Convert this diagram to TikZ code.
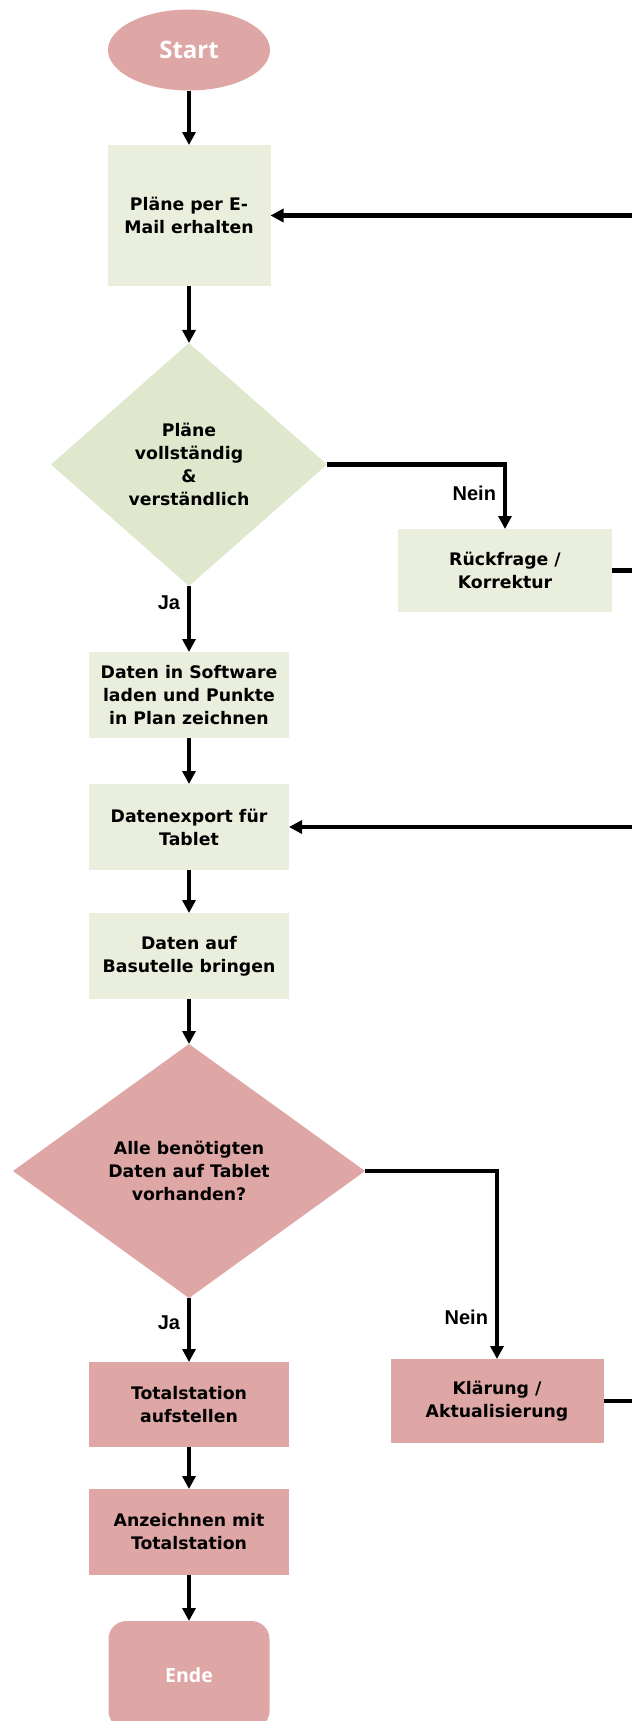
\documentclass[tikz,border=0pt]{standalone}
\usepackage{fontspec}
\setmainfont{DejaVu Sans}
\newfontfamily\answerfont{Liberation Sans}
\newfontfamily\termfont{Open Sans}
\usepackage{xcolor}
\usepackage{tikz}
\usetikzlibrary{arrows.meta}
\usetikzlibrary{shapes.geometric}
\usetikzlibrary{calc}
\usetikzlibrary{positioning}

\definecolor{flowpink}{RGB}{223,166,166}
\definecolor{flowgreen}{RGB}{233,239,220}
\definecolor{askgreen}{RGB}{223,232,204}

\begin{document}
\begin{tikzpicture}[x=1pt, y=1pt, node distance=130pt, line width=4.2pt, >={Triangle[length=13pt,width=13pt]}]
	\tikzstyle{every node}=[font=\fontsize{17.3}{23}\selectfont\bfseries, align=center, inner sep=2pt, line width=0pt]
	\tikzstyle{terminal}=[ellipse, fill=flowpink, text=white, minimum width=162pt, minimum height=81pt, font=\termfont\fontsize{24}{28}\selectfont\bfseries]
	\tikzstyle{endbox}=[rectangle, rounded corners=18pt, fill=flowpink, text=white, minimum width=161pt, minimum height=108pt, font=\termfont\fontsize{19.5}{24}\selectfont\bfseries]
	\tikzstyle{greenstep}=[rectangle, fill=flowgreen, minimum width=200pt, minimum height=86pt]
	\tikzstyle{pinkstep}=[rectangle, fill=flowpink, minimum width=200pt, minimum height=86pt]
	\tikzstyle{question}=[diamond, inner sep=0pt]
	\tikzstyle{answer}=[font=\answerfont\fontsize{20}{24}\selectfont\bfseries, inner sep=9pt]

	\useasboundingbox (0,0) rectangle (632,-1721);
	\coordinate (edge) at (632,0);

	\node[terminal] (start) at (189,-50) {Start};
	\node[greenstep, minimum width=163pt, minimum height=141pt] (mail) [below of=start, node distance=165.5pt] {Pläne per E-\\Mail erhalten};
	\node[question, fill=askgreen, minimum width=276pt, minimum height=243pt] (check1) [below of=mail, node distance=249pt] {Pläne\\vollständig\\\&\\verständlich};
	\node[greenstep] (load) [below of=check1, node distance=230.5pt] {Daten in Software\\laden und Punkte\\in Plan zeichnen};
	\node[greenstep] (export) [below of=load, node distance=132pt] {Datenexport für\\Tablet};
	\node[greenstep] (carry) [below of=export, node distance=129pt] {Daten auf\\Basutelle bringen};
	\node[question, fill=flowpink, minimum width=352pt, minimum height=254pt] (check2) [below of=carry, node distance=215pt] {Alle benötigten\\Daten auf Tablet\\vorhanden?};
	\node[pinkstep, minimum height=85pt] (setup) [below of=check2, node distance=233.5pt] {Totalstation\\aufstellen};
	\node[pinkstep] (mark) [below of=setup, node distance=127.5pt] {Anzeichnen mit\\Totalstation};
	\node[endbox] (ende) [below of=mark, node distance=143pt] {Ende};

	\node[greenstep, minimum width=214pt, minimum height=83pt] (ask) [below of=check1, node distance=106pt, xshift=316pt] {Rückfrage /\\Korrektur};
	\node[pinkstep, minimum width=213pt, minimum height=84pt] (fix) [below of=check2, node distance=230pt, xshift=308pt] {Klärung /\\Aktualisierung};

	% main column
	\draw[->] (start) -- (mail);
	\draw[->] (mail) -- (check1);
	\draw[->] (check1) -- node[answer, pos=0.26, left] {Ja} (load);
	\draw[->] (load) -- (export);
	\draw[->] (export) -- (carry);
	\draw[->] (carry) -- (check2);
	\draw[->] (check2) -- node[answer, pos=0.39, left] {Ja} (setup);
	\draw[->] (setup) -- (mark);
	\draw[->] (mark) -- (ende);

	% side branches
	\draw[->] (check1.east) -| node[answer, pos=0.72, left] {Nein} (ask.north);
	\draw[->] (check2.east) -| node[answer, pos=0.89, left] {Nein} (fix.north);

	% loops back
	\draw (ask.east) -- (ask.east -| edge);
	\draw[->] (mail.east -| edge) -- (mail.east);
	\draw (fix.east) -- (fix.east -| edge);
	\draw[->] (export.east -| edge) -- (export.east);
\end{tikzpicture}
\end{document}
